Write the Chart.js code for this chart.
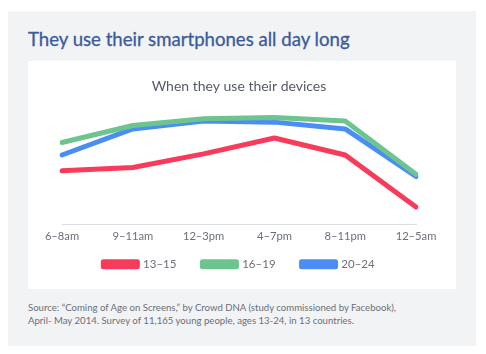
<!DOCTYPE html>
<html>
<head>
<meta charset="utf-8">
<script src="https://cdn.jsdelivr.net/npm/chart.js@4.4.0/dist/chart.umd.min.js"></script>
<style>
  html, body { margin: 0; padding: 0; background: #fff; }
  body { width: 486px; height: 354px; position: relative; overflow: hidden; font-family: Lato, "Open Sans", sans-serif; }
  .panel { position: absolute; left: 8px; top: 11px; width: 468px; height: 335px; background: #f2f3f5; }
  .headline { position: absolute; left: 28px; top: 28px; margin: 0; font-size: 18.6px; font-weight: 400; color: #3b5b9c; white-space: nowrap; -webkit-text-stroke: 0.3px #3b5b9c; }
  .box { position: absolute; left: 28px; top: 61px; width: 428px; height: 228px; background: #fff; }
  .box canvas { position: absolute; left: 0; top: 0; }
  .source { position: absolute; left: 28px; top: 301px; font-size: 9.6px; line-height: 13px; color: #6b6f78; white-space: nowrap; }
</style>
</head>
<body>
<div class="panel"></div>
<h1 class="headline">They use their smartphones all day long</h1>
<div class="box"><canvas id="usage" width="428" height="236"></canvas></div>
<div class="source">Source: “Coming of Age on Screens,” by Crowd DNA (study commissioned by Facebook),<br>April- May 2014. Survey of 11,165 young people, ages 13-24, in 13 countries.</div>
<script>
const timeSlots = ['6–8am', '9–11am', '12–3pm', '4–7pm', '8–11pm', '12–5am'];
const age13to15 = [47, 50, 62, 76, 61, 15];
const age16to19 = [72, 87, 93, 94, 91, 44];
const age20to24 = [61, 84, 91, 90, 84, 42];

const ctx = document.getElementById('usage').getContext('2d');

function series(label, data, color) {
    return {
        label: label,
        data: data,
        borderColor: color,
        backgroundColor: color,
        borderWidth: 5,
        borderCapStyle: 'round',
        borderJoinStyle: 'round',
        pointRadius: 0,
        tension: 0
    };
}

// legend padding is wide (for the gap between items) but that also pushes it down, so lift it a bit
const liftLegend = {
    id: 'liftLegend',
    afterLayout(chart) {
        chart.legend.top -= 17;
        chart.legend.bottom -= 17;
    }
};

new Chart(ctx, {
    type: 'line',
    data: {
        labels: timeSlots,
        datasets: [
            series('13–15', age13to15, '#f93b5b'),
            series('16–19', age16to19, '#6cc58e'),
            series('20–24', age20to24, '#4a8ef5')
        ]
    },
    options: {
        responsive: false,
        animation: false,
        layout: { padding: { left: 34, right: 40, top: 0, bottom: 0 } },
        plugins: {
            tooltip: { enabled: false },
            title: {
                display: true,
                text: 'When they use their devices',
                color: '#555a66',
                font: { family: 'Lato', size: 14, weight: 'normal' },
                padding: { top: 17, bottom: 16 }
            },
            legend: {
                position: 'bottom',
                labels: {
                    boxWidth: 34,
                    boxHeight: 5,
                    padding: 26,
                    color: '#6b6f78',
                    font: { family: 'Lato', size: 11.5 }
                }
            }
        },
        scales: {
            x: {
                grid: { display: false, drawTicks: false },
                border: { display: true, color: '#dcdde2', width: 1 },
                ticks: { color: '#6b6f78', padding: 6, maxRotation: 0, font: { family: 'Lato', size: 11.2 } }
            },
            y: {
                display: false,
                min: 0,
                max: 100
            }
        }
    },
    plugins: [liftLegend]
});
</script>
</body>
</html>
